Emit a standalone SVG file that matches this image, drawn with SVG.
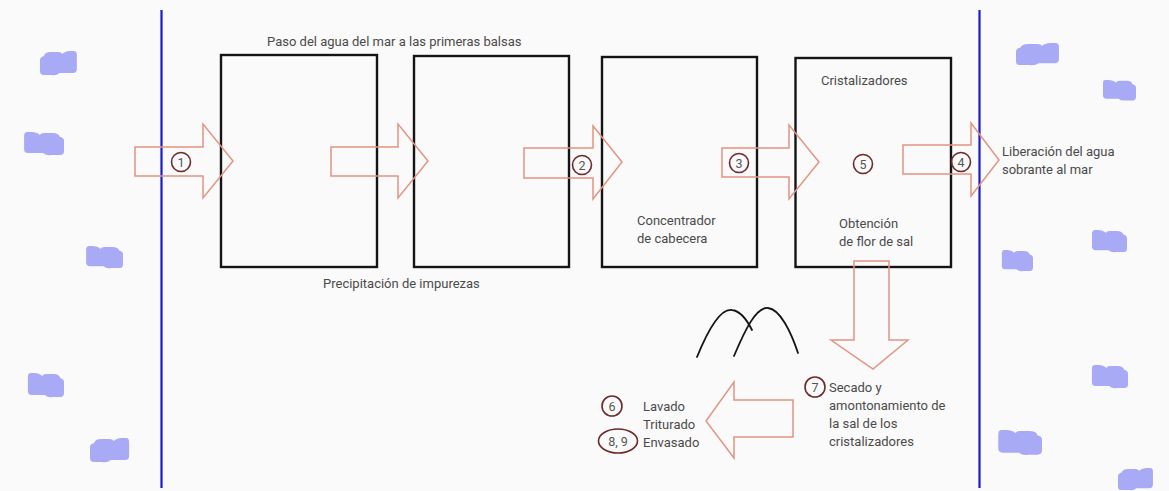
<svg xmlns="http://www.w3.org/2000/svg" width="1169" height="491" viewBox="0 0 1169 491">
  <style>
    .bg { fill: #fafafa; }
    .shore { stroke: #1a1ad0; stroke-width: 2.2; fill: none; }
    .pond { fill: none; stroke: #141414; stroke-width: 2.4; }
    .flow { fill: none; stroke: #e39482; stroke-width: 1.5; stroke-linejoin: miter; }
    .step { fill: none; stroke: #6e2a2a; stroke-width: 1.6; }
    .num { font-family: Roboto, "Liberation Sans", sans-serif; font-size: 12.5px; fill: #555; text-anchor: middle; }
    .lbl { font-family: Roboto, "Liberation Sans", sans-serif; font-size: 13px; fill: #4a4a4a; }
    .salt { fill: none; stroke: #141414; stroke-width: 1.8; stroke-linecap: round; }
    .foam { fill: #a9aaf5; }
  </style>
  <defs>
    <!-- small lumpy patch of sea foam -->
    <path id="blob" d="M4,5 Q5,1 11,1 L19,1 Q22,1 23,3 Q26,0 31,0 L35,0 Q38,0 38,4 L38,18 Q38,22 34,22 L20,22 Q17,25 12,24 L4,24 Q0,24 0,20 L0,9 Q0,6 4,5 Z"/>
  </defs>

  <rect class="bg" x="0" y="0" width="1169" height="491"/>

  <!-- sea on both sides -->
  <g id="sea">
    <use href="#blob" class="foam" transform="translate(40,51) scale(0.97,1)"/>
    <use href="#blob" class="foam" transform="translate(64,132) scale(-1.05,0.96)"/>
    <use href="#blob" class="foam" transform="translate(123,246) scale(-0.97,0.92)"/>
    <use href="#blob" class="foam" transform="translate(64,373) scale(-0.95,1)"/>
    <use href="#blob" class="foam" transform="translate(90,438) scale(1.03,1)"/>
    <use href="#blob" class="foam" transform="translate(1016,43) scale(1.13,0.92)"/>
    <use href="#blob" class="foam" transform="translate(1136,80) scale(-0.87,0.85)"/>
    <use href="#blob" class="foam" transform="translate(1127,230) scale(-0.92,0.92)"/>
    <use href="#blob" class="foam" transform="translate(1033,250) scale(-0.82,0.88)"/>
    <use href="#blob" class="foam" transform="translate(1128,365) scale(-0.95,0.96)"/>
    <use href="#blob" class="foam" transform="translate(1042,430) scale(-1.15,1.03)"/>
    <use href="#blob" class="foam" transform="translate(1118,468) scale(0.92,0.92)"/>
  </g>

  <g id="shorelines">
    <line class="shore" x1="161.5" y1="10" x2="161.5" y2="488"/>
    <line class="shore" x1="979.5" y1="10" x2="979.5" y2="488"/>
  </g>

  <!-- ponds -->
  <g id="pond1">
    <rect class="pond" x="221" y="55" width="156" height="212"/>
  </g>
  <g id="pond2">
    <rect class="pond" x="414" y="56" width="155" height="211"/>
  </g>
  <g id="pond3">
    <rect class="pond" x="602" y="57" width="155" height="210"/>
    <text class="lbl" x="637" y="225">Concentrador</text>
    <text class="lbl" x="637" y="243">de cabecera</text>
  </g>
  <g id="pond4">
    <rect class="pond" x="795.5" y="58" width="155.5" height="209"/>
    <text class="lbl" x="821" y="85">Cristalizadores</text>
    <text class="lbl" x="839" y="228">Obtención</text>
    <text class="lbl" x="839" y="246">de flor de sal</text>
  </g>

  <!-- salt heaps -->
  <g id="heaps">
    <path class="salt" d="M697,357 C708,330 720,308 732,310 C741,311 747,320 752,330"/>
    <path class="salt" d="M734,356 C745,330 756,307 768,308 C780,309 791,332 798,353"/>
  </g>

  <!-- flow arrows -->
  <g id="connectors">
    <path class="flow" d="M135,147 L203,147 L203,124 L233,161 L203,198 L203,176 L135,176 Z"/>
    <path class="flow" d="M331,147 L398,147 L398,124 L428,161 L398,198 L398,176 L331,176 Z"/>
    <path class="flow" d="M524,148 L593,148 L593,126 L622,162 L593,199 L593,178 L524,178 Z"/>
    <path class="flow" d="M722,148 L789,148 L789,125 L819,162 L789,199 L789,177 L722,177 Z"/>
    <path class="flow" d="M903,145 L971,145 L971,123 L999,160 L971,196 L971,174 L903,174 Z"/>
    <path class="flow" d="M854,261 L889,261 L889,340 L908,340 L873,369 L831,340 L854,340 Z"/>
    <path class="flow" d="M793,400 L734,400 L734,382 L706,421 L734,458 L734,437 L793,437 Z"/>
  </g>

  <!-- numbered steps -->
  <g id="step1"><circle class="step" cx="181" cy="162" r="9.5"/><text class="num" x="181" y="166.5">1</text></g>
  <g id="step2"><circle class="step" cx="582" cy="165" r="9.5"/><text class="num" x="582" y="169.5">2</text></g>
  <g id="step3"><circle class="step" cx="739" cy="163" r="9.5"/><text class="num" x="739" y="167.5">3</text></g>
  <g id="step4"><circle class="step" cx="961" cy="162" r="9.5"/><text class="num" x="961" y="166.5">4</text></g>
  <g id="step5"><circle class="step" cx="863" cy="164" r="9.5"/><text class="num" x="863" y="168.5">5</text></g>
  <g id="step6"><circle class="step" cx="612" cy="406" r="10"/><text class="num" x="612" y="410.5">6</text></g>
  <g id="step7"><circle class="step" cx="815" cy="387" r="10"/><text class="num" x="815" y="391.5">7</text></g>
  <g id="step89"><ellipse class="step" cx="618" cy="441" rx="19.5" ry="12"/><text class="num" x="618" y="445.5">8, 9</text></g>

  <!-- labels -->
  <g id="labels">
    <text class="lbl" x="267" y="46">Paso del agua del mar a las primeras balsas</text>
    <text class="lbl" x="323" y="288">Precipitación de impurezas</text>
    <text class="lbl" x="1002" y="156">Liberación del agua</text>
    <text class="lbl" x="1002" y="174">sobrante al mar</text>
    <text class="lbl" x="829" y="392">Secado y</text>
    <text class="lbl" x="829" y="410">amontonamiento de</text>
    <text class="lbl" x="829" y="428">la sal de los</text>
    <text class="lbl" x="829" y="446">cristalizadores</text>
    <text class="lbl" x="643" y="411">Lavado</text>
    <text class="lbl" x="643" y="429">Triturado</text>
    <text class="lbl" x="643" y="447">Envasado</text>
  </g>
</svg>
